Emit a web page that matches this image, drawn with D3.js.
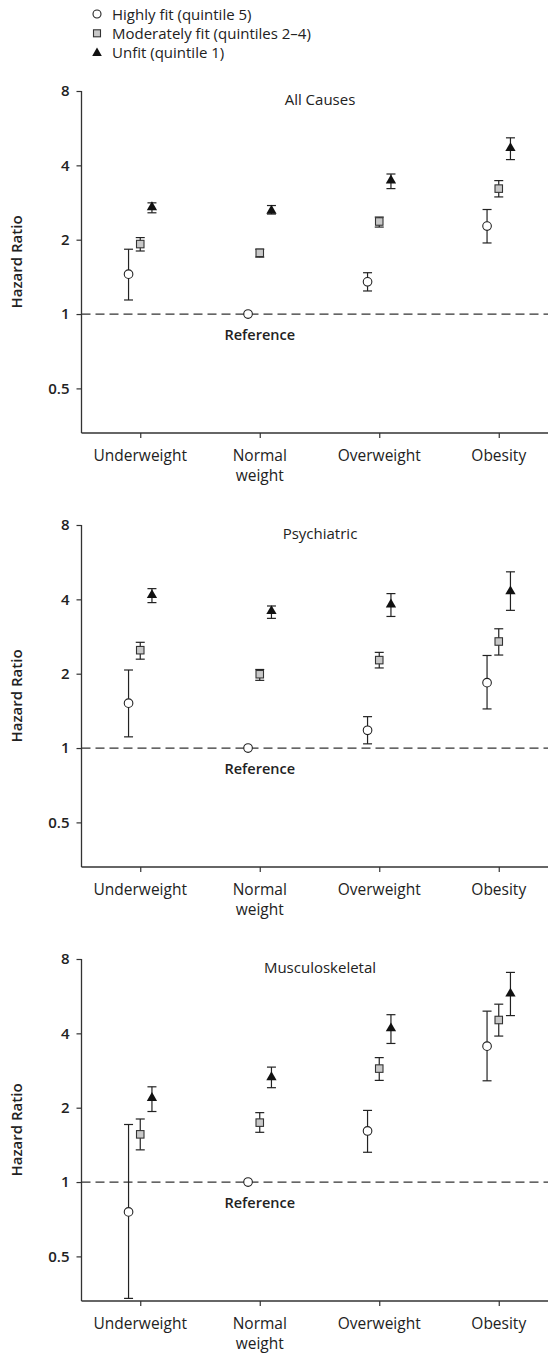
<!DOCTYPE html>
<html>
<head>
<meta charset="utf-8">
<script src="https://cdn.jsdelivr.net/npm/d3@7"></script>
<style>
  body { margin: 0; background: #fff; }
  text { font-family: "Open Sans", "Lato", sans-serif; fill: #222; }
</style>
</head>
<body>
<svg id="drawing_region"></svg>
<script>
// categories and series
const categories = ["Underweight", "Normal weight", "Overweight", "Obesity"];
const seriesNames = ["Highly fit (quintile 5)", "Moderately fit (quintiles 2\u20134)", "Unfit (quintile 1)"];
const panelTitles = ["All Causes", "Psychiatric", "Musculoskeletal"];
const yTicks = [0.5, 1, 2, 4, 8];

// [hazard ratio, lower CI, upper CI] per category
const allHighly     = [[1.45, 1.14, 1.83], [1, null, null], [1.35, 1.24, 1.47], [2.27, 1.94, 2.65]];
const allModerate   = [[1.92, 1.80, 2.04], [1.77, 1.70, 1.83], [2.37, 2.25, 2.47], [3.22, 2.98, 3.47]];
const allUnfit      = [[2.72, 2.57, 2.82], [2.63, 2.54, 2.75], [3.49, 3.22, 3.69], [4.72, 4.22, 5.17]];

const psyHighly     = [[1.52, 1.11, 2.07], [1, null, null], [1.18, 1.04, 1.34], [1.84, 1.44, 2.37]];
const psyModerate   = [[2.49, 2.29, 2.68], [1.99, 1.88, 2.08], [2.27, 2.11, 2.44], [2.70, 2.38, 3.04]];
const psyUnfit      = [[4.18, 3.88, 4.42], [3.60, 3.35, 3.76], [3.83, 3.41, 4.22], [4.33, 3.61, 5.17]];

const muscHighly    = [[0.757, 0.338, 1.71], [1, null, null], [1.61, 1.32, 1.95], [3.55, 2.57, 4.92]];
const muscModerate  = [[1.56, 1.35, 1.80], [1.74, 1.59, 1.91], [2.88, 2.58, 3.19], [4.53, 3.90, 5.25]];
const muscUnfit     = [[2.20, 1.93, 2.43], [2.67, 2.41, 2.92], [4.21, 3.64, 4.76], [5.82, 4.72, 7.06]];

const panelData = [
    [allHighly, allModerate, allUnfit],
    [psyHighly, psyModerate, psyUnfit],
    [muscHighly, muscModerate, muscUnfit]
];

const width = 548, height = 1353;
const svg = d3.select('#drawing_region')
    .attr('width', width)
    .attr('height', height);

const axisColor = "#333";

// legend
const legend = svg.append('g').attr('transform', 'translate(97, 14)');
seriesNames.forEach((name, i) => {
    const g = legend.append('g').attr('transform', `translate(0, ${i * 19.3})`);
    drawMarker(g, i, 0, 0, true);
    g.append('text')
        .attr('x', 15)
        .attr('y', 5.5)
        .attr('font-size', '15px')
        .attr('font-weight', 500)
        .text(name);
});

function drawMarker(g, s, x, y, legendMode) {
    if (s === 0) {
        g.append('circle')
            .attr('cx', x).attr('cy', y).attr('r', legendMode ? 4 : 4.3)
            .attr('fill', '#fff').attr('stroke', '#222').attr('stroke-width', 1.1);
    } else if (s === 1) {
        const sz = legendMode ? 7 : 7.5;
        g.append('rect')
            .attr('x', x - sz / 2).attr('y', y - sz / 2)
            .attr('width', sz).attr('height', sz)
            .attr('fill', '#c8c8c8').attr('stroke', '#333').attr('stroke-width', 1.1);
    } else {
        const tri = d3.symbol().type(d3.symbolTriangle).size(legendMode ? 40 : 46);
        g.append('path')
            .attr('d', tri())
            .attr('transform', `translate(${x}, ${y + 0.5})`)
            .attr('fill', '#111');
    }
}

const xscale = d3.scalePoint()
    .domain(categories)
    .range([80.5, 558.5])
    .padding(0.5);

const offset = d3.scalePoint()
    .domain([0, 1, 2])
    .range([-11.7, 11.7]);

panelData.forEach((series, p) => {
    const top = 91 + p * 434;
    const bottom = top + 342;
    const left = 81.5;

    const yscale = d3.scaleLog()
        .base(2)
        .domain([Math.pow(2, -1.6), 8])
        .range([bottom, top]);

    const chart = svg.append('g');

    // y axis
    const yaxis = d3.axisLeft(yscale)
        .tickValues(yTicks)
        .tickFormat(d => String(d))
        .tickSize(5)
        .tickSizeOuter(0);
    const yg = chart.append('g')
        .attr('transform', `translate(${left}, 0)`)
        .call(yaxis);
    yg.select('.domain').remove();
    yg.selectAll('line').attr('stroke', axisColor).attr('stroke-width', 1.2);
    yg.selectAll('text')
        .attr('font-size', '15px')
        .attr('font-weight', 600)
        .attr('x', -12)
        .style('font-family', '"Open Sans", sans-serif')
        .attr('fill', '#222');
    chart.append('line')
        .attr('x1', left).attr('x2', left)
        .attr('y1', yscale(8)).attr('y2', bottom)
        .attr('stroke', axisColor).attr('stroke-width', 1.3);

    // x axis
    const xaxis = d3.axisBottom(xscale)
        .tickSize(5)
        .tickFormat('');
    const xg = chart.append('g')
        .attr('transform', `translate(0, ${bottom})`)
        .call(xaxis);
    xg.select('.domain').remove();
    xg.selectAll('line').attr('stroke', axisColor).attr('stroke-width', 1.2);
    chart.append('line')
        .attr('x1', left).attr('x2', width)
        .attr('y1', bottom).attr('y2', bottom)
        .attr('stroke', axisColor).attr('stroke-width', 1.3);

    categories.forEach(c => {
        const words = c.split(' ');
        const t = chart.append('text')
            .attr('x', xscale(c))
            .attr('y', bottom + 28)
            .attr('text-anchor', 'middle')
            .attr('font-size', '15.5px')
            .attr('font-weight', 500);
        words.forEach((w, i) => {
            t.append('tspan')
                .attr('x', xscale(c))
                .attr('dy', i === 0 ? 0 : 20)
                .text(w);
        });
    });

    // y label
    chart.append('text')
        .attr('transform', `translate(22, ${(top + bottom) / 2}) rotate(-90)`)
        .attr('text-anchor', 'middle')
        .attr('font-size', '15px')
        .attr('font-weight', 600)
        .text('Hazard Ratio');

    // title
    chart.append('text')
        .attr('x', 320)
        .attr('y', top + 14)
        .attr('text-anchor', 'middle')
        .attr('font-size', '15px')
        .attr('font-weight', 500)
        .text(panelTitles[p]);

    // reference line
    chart.append('line')
        .attr('x1', left).attr('x2', width)
        .attr('y1', yscale(1)).attr('y2', yscale(1))
        .attr('stroke', '#333')
        .attr('stroke-width', 1.2)
        .attr('stroke-dasharray', '9,5');

    chart.append('text')
        .attr('x', xscale('Normal weight'))
        .attr('y', yscale(1) + 26)
        .attr('text-anchor', 'middle')
        .attr('font-size', '14.5px')
        .attr('font-weight', 600)
        .text('Reference');

    // error bars and markers
    series.forEach((vals, s) => {
        vals.forEach((v, i) => {
            const x = xscale(categories[i]) + offset(s);
            const [hr, lo, hi] = v;
            if (lo !== null) {
                chart.append('line')
                    .attr('x1', x).attr('x2', x)
                    .attr('y1', yscale(lo)).attr('y2', yscale(hi))
                    .attr('stroke', '#222').attr('stroke-width', 1.2);
                [lo, hi].forEach(b => {
                    chart.append('line')
                        .attr('x1', x - 4.5).attr('x2', x + 4.5)
                        .attr('y1', yscale(b)).attr('y2', yscale(b))
                        .attr('stroke', '#222').attr('stroke-width', 1.2);
                });
            }
            drawMarker(chart, s, x, yscale(hr), false);
        });
    });
});
</script>
</body>
</html>
